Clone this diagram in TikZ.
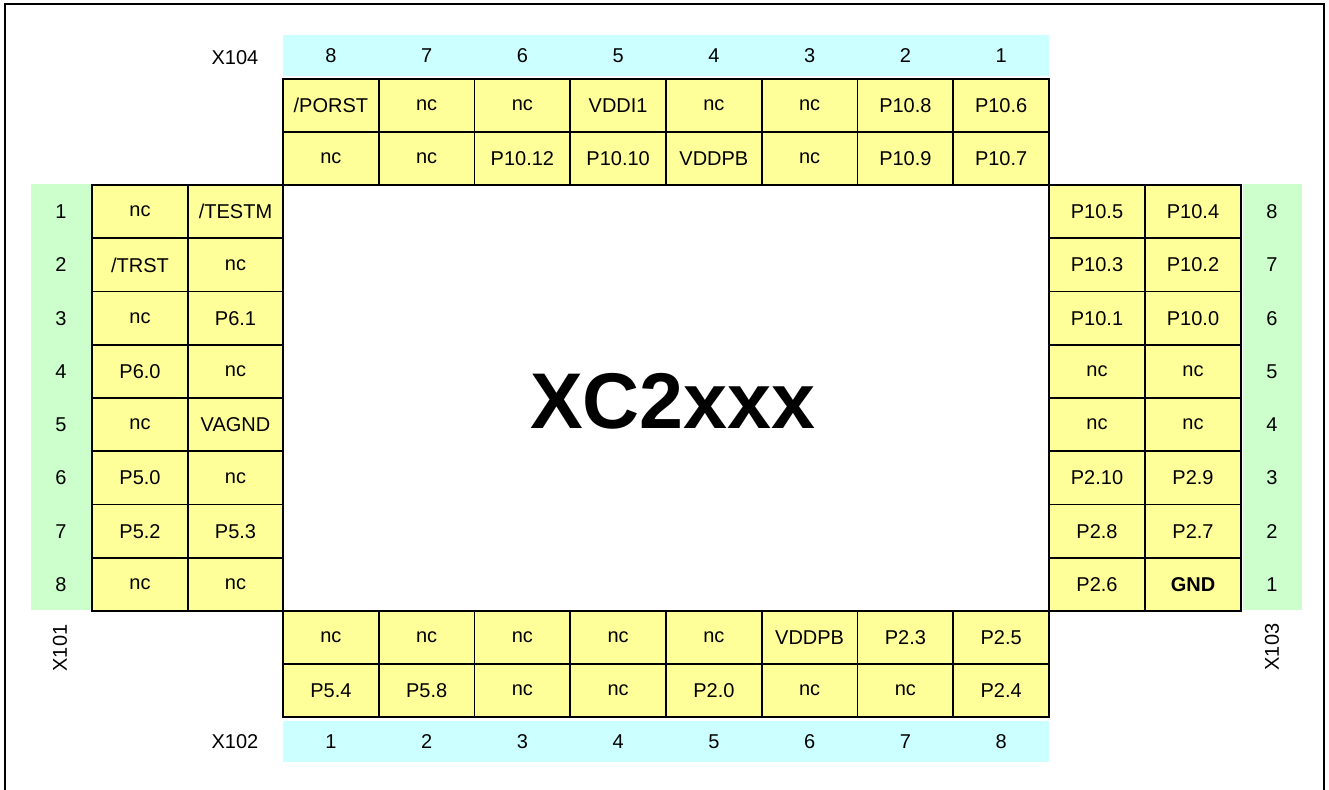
\documentclass[tikz,border=0pt]{standalone}
\usepackage{fontspec}
\setmainfont{Liberation Sans}
\definecolor{cellyellow}{HTML}{FFFF99}
\definecolor{bandcyan}{HTML}{CCFFFF}
\definecolor{bandgreen}{HTML}{CCFFCC}
\tikzset{
  pincell/.style={draw=black, line width=1.8pt, fill=cellyellow, minimum width=95.75pt, minimum height=53.25pt, inner sep=0pt, outer sep=0pt, font=\fontsize{20}{24}\selectfont},
  hcell/.style={pincell, minimum height=53pt},
  numlbl/.style={inner sep=0pt, font=\fontsize{20}{24}\selectfont},
  conlbl/.style={inner sep=0pt, font=\fontsize{20}{24}\selectfont},
}
\begin{document}
\begin{tikzpicture}[x=1pt,y=-1pt]
\useasboundingbox (0,0) rectangle (1329,789);
% outer frame
\draw[line width=2.5pt] (5,795) -- (5,4) -- (1324,4) -- (1324,795);
% bands
\fill[bandcyan] (283,35) rectangle (1049,76);
\fill[bandcyan] (283,721) rectangle (1049,762);
\fill[bandgreen] (31,184) rectangle (91,610);
\fill[bandgreen] (1243,184) rectangle (1302,610);
% top connector X104
\foreach \t [count=\i] in {{/PORST},nc,nc,VDDI1,nc,nc,P10.8,P10.6}
  \node[hcell] (topa-\i) at ({283+95.75*(\i-0.5)},105.5) {\t};
\foreach \t [count=\i] in {nc,nc,P10.12,P10.10,VDDPB,nc,P10.9,P10.7}
  \node[hcell] (topb-\i) at ({283+95.75*(\i-0.5)},158.5) {\t};
\foreach \i in {1,...,8}
  \pgfmathtruncatemacro{\n}{9-\i}
  \node[numlbl] (topn-\i) at ({283+95.75*(\i-0.5)},55.5) {\n};
% bottom connector X102
\foreach \t [count=\i] in {nc,nc,nc,nc,nc,VDDPB,P2.3,P2.5}
  \node[hcell] (bota-\i) at ({283+95.75*(\i-0.5)},637.5) {\t};
\foreach \t [count=\i] in {P5.4,P5.8,nc,nc,P2.0,nc,nc,P2.4}
  \node[hcell] (botb-\i) at ({283+95.75*(\i-0.5)},690.5) {\t};
\foreach \i in {1,...,8}
  \node[numlbl] (botn-\i) at ({283+95.75*(\i-0.5)},741.5) {\i};
% left connector X101
\foreach \t [count=\j] in {nc,{/TRST},nc,P6.0,nc,P5.0,P5.2,nc}
  \node[pincell, minimum width=96pt] (lfta-\j) at (140,{185+53.25*(\j-0.5)}) {\t};
\foreach \t [count=\j] in {{/TESTM},nc,P6.1,nc,VAGND,nc,P5.3,nc}
  \node[pincell, minimum width=95pt] (lftb-\j) at (235.5,{185+53.25*(\j-0.5)}) {\t};
\foreach \j in {1,...,8}
  \node[numlbl] (lftn-\j) at (61,{185+53.25*(\j-0.5)}) {\j};
% right connector X103
\foreach \t [count=\j] in {P10.5,P10.3,P10.1,nc,nc,P2.10,P2.8,P2.6}
  \node[pincell, minimum width=96pt] (rgta-\j) at (1097,{185+53.25*(\j-0.5)}) {\t};
\foreach \t [count=\j] in {P10.4,P10.2,P10.0,nc,nc,P2.9,P2.7,{\textbf{GND}}}
  \node[pincell, minimum width=96pt] (rgtb-\j) at (1193,{185+53.25*(\j-0.5)}) {\t};
\foreach \j in {1,...,8}
  \pgfmathtruncatemacro{\n}{9-\j}
  \node[numlbl] (rgtn-\j) at (1272,{185+53.25*(\j-0.5)}) {\n};
% connector names
\node[conlbl] (x104) at (235,58) {X104};
\node[conlbl] (x102) at (235,742) {X102};
\node[conlbl, rotate=90] (x101) at (60,648) {X101};
\node[conlbl, rotate=90] (x103) at (1272,647) {X103};
% chip name
\node[inner sep=0pt, font=\fontsize{79}{90}\selectfont\bfseries] (chip) at (673,401) {XC2xxx};
\end{tikzpicture}
\end{document}
